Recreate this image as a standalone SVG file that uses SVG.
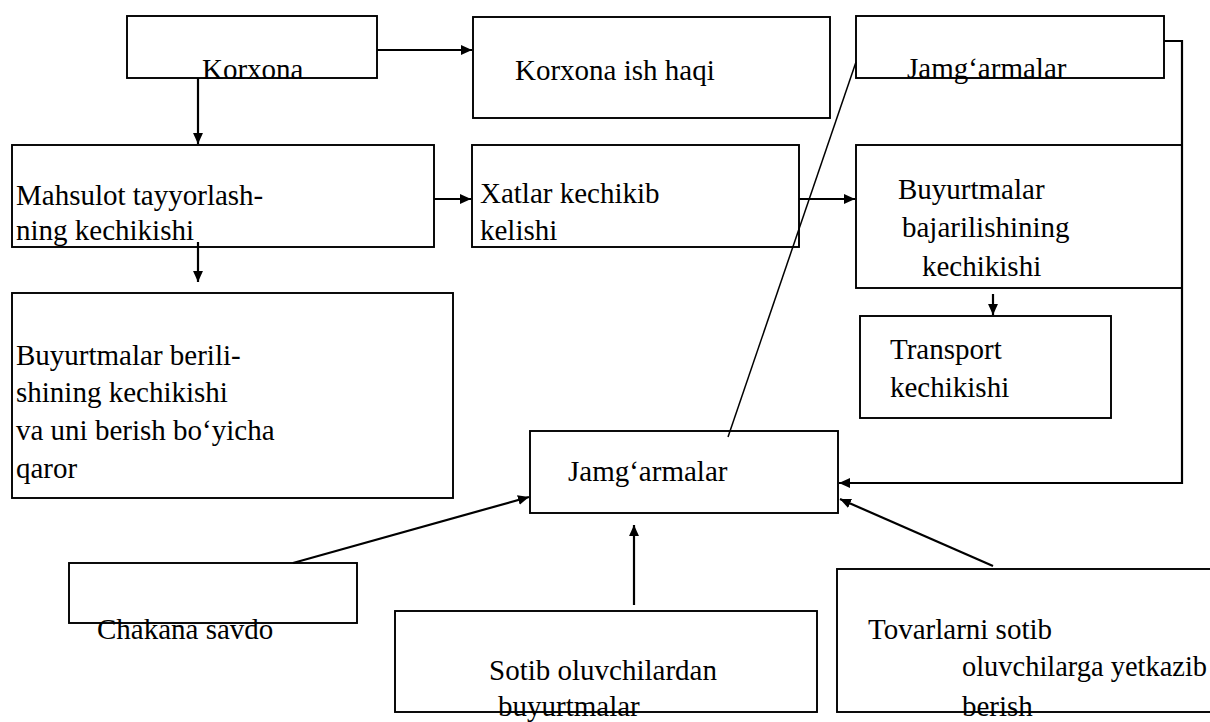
<svg xmlns="http://www.w3.org/2000/svg" width="1210" height="722" viewBox="0 0 1210 722">
  <style>
    .box { fill: none; stroke: #000; stroke-width: 1.9; }
    .lbl { font-family: "Liberation Serif", "Times New Roman", serif; font-size: 29px; fill: #000; }
    .wire { fill: none; stroke: #000; stroke-width: 2.2; }
    .thin { fill: none; stroke: #000; stroke-width: 1.5; }
  </style>
  <defs>
    <marker id="arrow" viewBox="0 0 10 10" refX="10" refY="5" markerWidth="5" markerHeight="4.5" markerUnits="strokeWidth" orient="auto" preserveAspectRatio="none">
      <path d="M0,0 L10,5 L0,10 z" fill="#000"/>
    </marker>
  </defs>
  <rect width="1210" height="722" fill="#fff"/>

  <g id="korxona">
    <rect class="box" x="127" y="16" width="250" height="62"/>
    <text class="lbl" x="202" y="79">Korxona</text>
  </g>
  <g id="korxona-ish-haqi">
    <rect class="box" x="473" y="17" width="357" height="101"/>
    <text class="lbl" x="515" y="80">Korxona ish haqi</text>
  </g>
  <g id="jamgarmalar-top">
    <rect class="box" x="856" y="16" width="308" height="62"/>
    <text class="lbl" x="907" y="78">Jamg‘armalar</text>
  </g>
  <g id="mahsulot">
    <rect class="box" x="12" y="145" width="422" height="102"/>
    <text class="lbl" x="16" y="205">Mahsulot tayyorlash-</text>
    <text class="lbl" x="16" y="240">ning kechikishi</text>
  </g>
  <g id="xatlar">
    <rect class="box" x="472" y="145" width="327" height="102"/>
    <text class="lbl" x="480" y="203">Xatlar kechikib</text>
    <text class="lbl" x="480" y="240">kelishi</text>
  </g>
  <g id="buyurtmalar-bajarilishi">
    <rect class="box" x="856" y="145" width="326" height="143"/>
    <text class="lbl" x="898" y="199">Buyurtmalar</text>
    <text class="lbl" x="902" y="237">bajarilishining</text>
    <text class="lbl" x="922" y="276">kechikishi</text>
  </g>
  <g id="transport">
    <rect class="box" x="860" y="316" width="251" height="102"/>
    <text class="lbl" x="890" y="359">Transport</text>
    <text class="lbl" x="890" y="397">kechikishi</text>
  </g>
  <g id="buyurtmalar-berilishi">
    <rect class="box" x="12" y="293" width="441" height="205"/>
    <text class="lbl" x="16" y="365">Buyurtmalar berili-</text>
    <text class="lbl" x="16" y="402">shining kechikishi</text>
    <text class="lbl" x="16" y="440">va uni berish bo‘yicha</text>
    <text class="lbl" x="16" y="478">qaror</text>
  </g>
  <g id="jamgarmalar-center">
    <rect class="box" x="530" y="431" width="308" height="82"/>
    <text class="lbl" x="568" y="481">Jamg‘armalar</text>
  </g>
  <g id="chakana-savdo">
    <rect class="box" x="69" y="563" width="288" height="60"/>
    <text class="lbl" x="97" y="639">Chakana savdo</text>
  </g>
  <g id="sotib-oluvchilardan">
    <rect class="box" x="395" y="611" width="422" height="101"/>
    <text class="lbl" x="489" y="680">Sotib oluvchilardan</text>
    <text class="lbl" x="498" y="716">buyurtmalar</text>
  </g>
  <g id="tovarlarni-yetkazish">
    <rect class="box" x="837" y="569" width="380" height="143"/>
    <text class="lbl" x="868" y="639">Tovarlarni sotib</text>
    <text class="lbl" x="962" y="676" textLength="245" lengthAdjust="spacingAndGlyphs">oluvchilarga yetkazib</text>
    <text class="lbl" x="962" y="716">berish</text>
  </g>

  <g id="connectors">
    <line class="wire" x1="377" y1="50" x2="472" y2="50" marker-end="url(#arrow)"/>
    <line class="wire" x1="198" y1="78" x2="198" y2="144" marker-end="url(#arrow)"/>
    <line class="wire" x1="198" y1="242" x2="198" y2="282" marker-end="url(#arrow)"/>
    <line class="wire" x1="434" y1="199" x2="471" y2="199" marker-end="url(#arrow)"/>
    <line class="wire" x1="799" y1="199" x2="855" y2="199" marker-end="url(#arrow)"/>
    <line class="wire" x1="993" y1="294" x2="993" y2="315" marker-end="url(#arrow)"/>
    <line class="thin" x1="728" y1="437" x2="856" y2="62"/>
    <polyline class="wire" points="1164,41 1182,41 1182,483 839,483" marker-end="url(#arrow)"/>
    <line class="wire" x1="993" y1="566" x2="840" y2="499" marker-end="url(#arrow)"/>
    <line class="wire" x1="293" y1="563" x2="529" y2="497" marker-end="url(#arrow)"/>
    <line class="wire" x1="634" y1="605" x2="634" y2="525" marker-end="url(#arrow)"/>
  </g>
</svg>
